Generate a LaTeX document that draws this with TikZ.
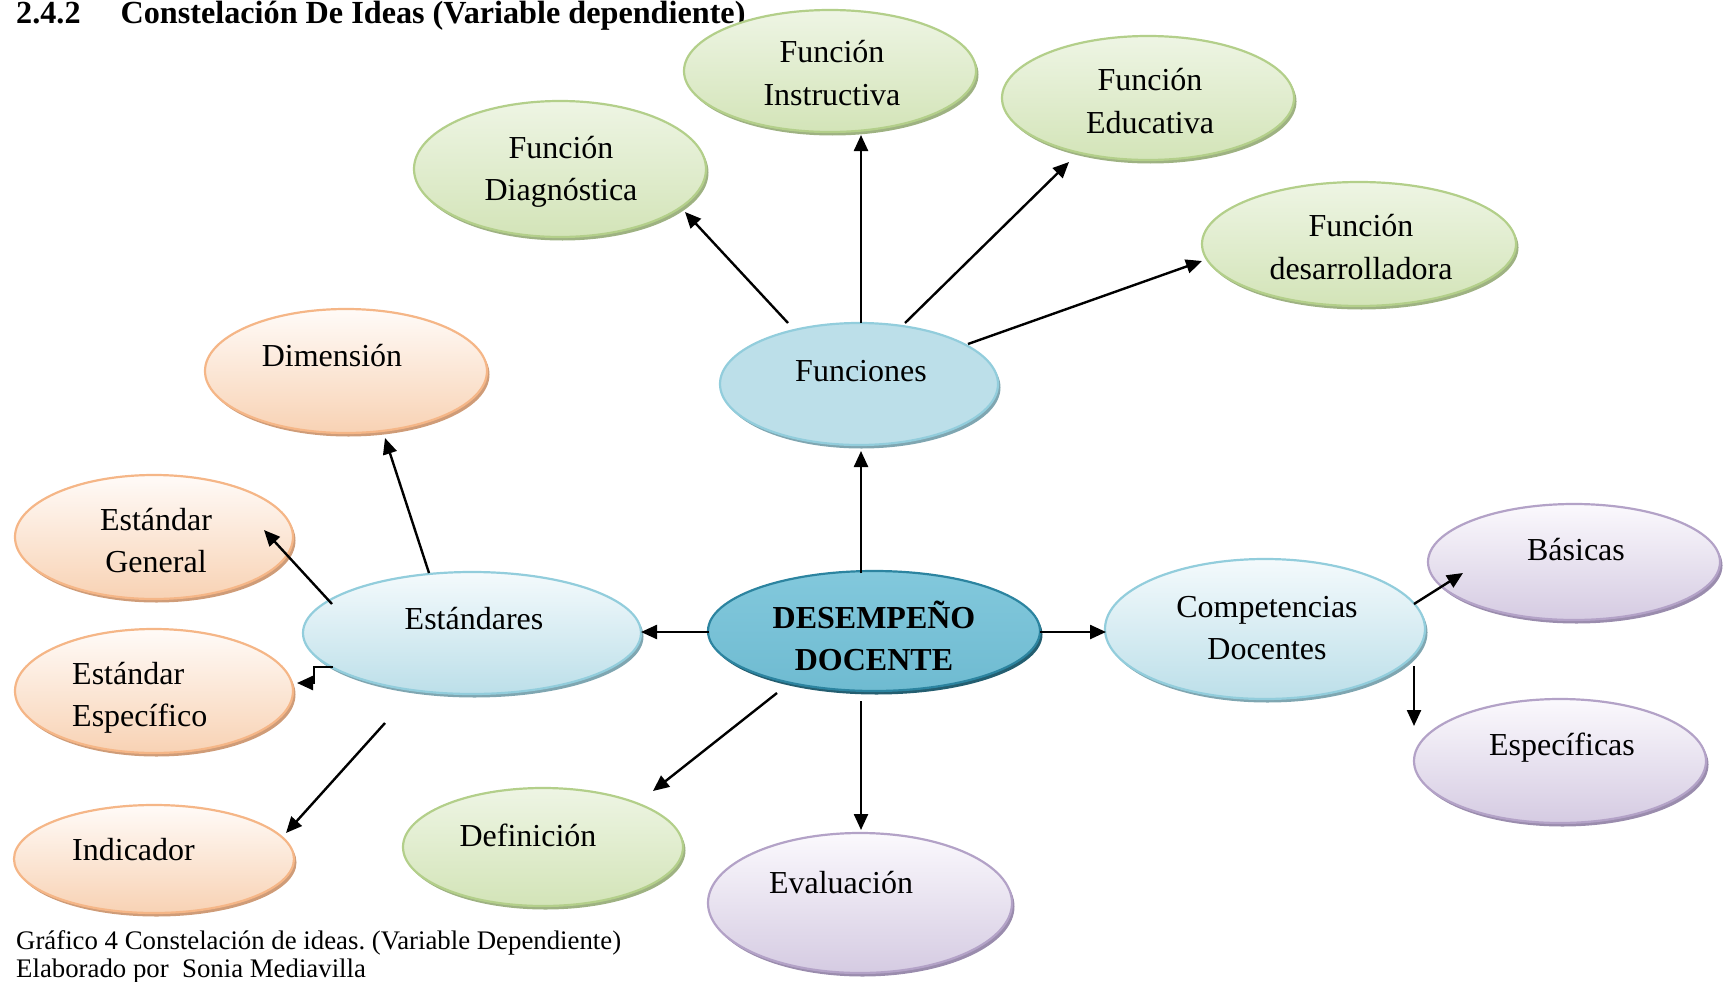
\documentclass[tikz,border=0pt]{standalone}
\usepackage{fontspec}
\setmainfont{Liberation Serif}
\usetikzlibrary{shapes.geometric,arrows.meta,shadows,calc}
\frenchspacing

% bubble palettes
\definecolor{grnTop}{HTML}{EEF5E4}
\definecolor{grnBot}{HTML}{D3E4B8}
\definecolor{grnLine}{HTML}{B3CF8A}
\definecolor{grnShd}{HTML}{9EB282}
\definecolor{orgTop}{HTML}{FFFBF8}
\definecolor{orgBot}{HTML}{F8D2B4}
\definecolor{orgLine}{HTML}{F5B687}
\definecolor{orgShd}{HTML}{CF9C78}
\definecolor{bluTop}{HTML}{F4FAFC}
\definecolor{bluMid}{HTML}{E0F0F5}
\definecolor{bluBot}{HTML}{BCDFE9}
\definecolor{bluLine}{HTML}{92CDDC}
\definecolor{bluShd}{HTML}{7FA6B1}
\definecolor{purTop}{HTML}{FBF9FD}
\definecolor{purBot}{HTML}{D5CBE2}
\definecolor{purLine}{HTML}{B3A2C7}
\definecolor{purShd}{HTML}{9A8CAD}
\definecolor{hubTop}{HTML}{82C8DC}
\definecolor{hubMid}{HTML}{45A5C1}
\definecolor{hubBot}{HTML}{6FBBD1}
\definecolor{hubLine}{HTML}{2C84A0}
\definecolor{hubShd}{HTML}{245E70}

\tikzset{
  bubble/.style={ellipse, inner sep=0pt, line width=2.2pt},
  gbub/.style={bubble, draw=grnLine, top color=grnTop, bottom color=grnBot,
    drop shadow={shadow xshift=2.5pt, shadow yshift=-3.5pt, fill=grnShd, opacity=1}},
  obub/.style={bubble, draw=orgLine, top color=orgTop, bottom color=orgBot,
    drop shadow={shadow xshift=2.5pt, shadow yshift=-3.5pt, fill=orgShd, opacity=1}},
  bbub/.style={bubble, draw=bluLine, top color=bluTop, bottom color=bluBot,
    drop shadow={shadow xshift=2.5pt, shadow yshift=-3.5pt, fill=bluShd, opacity=1}},
  fbub/.style={bubble, draw=bluLine, top color=bluBot, middle color=bluMid, bottom color=bluBot,
    drop shadow={shadow xshift=2.5pt, shadow yshift=-3.5pt, fill=bluShd, opacity=1}},
  pbub/.style={bubble, draw=purLine, top color=purTop, bottom color=purBot,
    drop shadow={shadow xshift=2.5pt, shadow yshift=-3.5pt, fill=purShd, opacity=1}},
  hbub/.style={bubble, draw=hubLine, top color=hubTop, middle color=hubMid, bottom color=hubBot,
    drop shadow={shadow xshift=2.5pt, shadow yshift=-3.5pt, fill=hubShd, opacity=1}},
  lbl/.style={inner sep=0pt, anchor=base, font=\fontsize{32}{38}\selectfont},
  lblw/.style={lbl, anchor=base west},
  conn/.style={line width=2.4pt, -{Triangle[length=16pt,width=14pt]}},
}

\begin{document}
\begin{tikzpicture}[x=1pt, y=-1pt]
\useasboundingbox (0,0) rectangle (1724,982);

% heading and caption
\node[inner sep=0pt, anchor=base west, font=\fontsize{32.2}{36}\selectfont\bfseries]
  (head) at (16,24) {2.4.2\hspace{40pt}Constelación De Ideas (Variable dependiente)};
\node[inner sep=0pt, anchor=base west, font=\fontsize{26.8}{30}\selectfont]
  (cap1) at (16,949) {Gráfico 4 Constelación de ideas. (Variable Dependiente)};
\node[inner sep=0pt, anchor=base west, font=\fontsize{26.8}{30}\selectfont]
  (cap2) at (16,977) {Elaborado por\ \ Sonia Mediavilla};

% bubbles
\node[gbub, minimum width=292pt, minimum height=122pt] (instr) at (830,71) {};
\node[gbub, minimum width=292pt, minimum height=124pt] (educ)  at (1148,98) {};
\node[gbub, minimum width=292pt, minimum height=136pt] (diag)  at (560,169) {};
\node[gbub, minimum width=314pt, minimum height=124pt] (desa)  at (1359,244) {};
\node[fbub, minimum width=278pt, minimum height=122pt] (fun)   at (859,384) {};
\node[obub, minimum width=282pt, minimum height=124pt] (dim)   at (346,371) {};
\node[obub, minimum width=278pt, minimum height=124pt] (gen)   at (154,537) {};
\node[obub, minimum width=278pt, minimum height=124pt] (spec)  at (154,691) {};
\node[obub, minimum width=280pt, minimum height=108pt] (ind)   at (154,859) {};
\node[bbub, minimum width=338pt, minimum height=122pt] (est)   at (472,633) {};
\node[hbub, minimum width=332pt, minimum height=120pt] (des)   at (874,631) {};
\node[bbub, minimum width=320pt, minimum height=140pt] (comp)  at (1265,629) {};
\node[pbub, minimum width=292pt, minimum height=116pt] (bas)   at (1574,562) {};
\node[pbub, minimum width=292pt, minimum height=124pt] (espf)  at (1560,761) {};
\node[gbub, minimum width=280pt, minimum height=118pt] (def)   at (543,847) {};
\node[pbub, minimum width=304pt, minimum height=140pt] (eval)  at (860,903) {};

% labels
\node[lbl] (instr-a) at (832,63)  {Función};
\node[lbl] (instr-b) at (832,106) {Instructiva};
\node[lbl] (educ-a)  at (1150,91)  {Función};
\node[lbl] (educ-b)  at (1150,133) {Educativa};
\node[lbl] (diag-a)  at (561,158) {Función};
\node[lbl] (diag-b)  at (561,200) {Diagnóstica};
\node[lbl] (desa-a)  at (1361,236) {Función};
\node[lbl] (desa-b)  at (1361,279) {desarrolladora};
\node[lbl] (fun-a)   at (861,381) {Funciones};
\node[lbl] (dim-a)   at (332,366) {Dimensión};
\node[lbl] (gen-a)   at (156,530) {Estándar};
\node[lbl] (gen-b)   at (156,572) {General};
\node[lblw] (spec-a) at (72,684) {Estándar};
\node[lblw] (spec-b) at (72,726) {Específico};
\node[lblw] (ind-a)  at (72,860) {Indicador};
\node[lbl] (est-a)   at (474,629) {Estándares};
\node[lbl, font=\fontsize{32}{38}\selectfont\bfseries] (des-a) at (874,628) {DESEMPEÑO};
\node[lbl, font=\fontsize{32}{38}\selectfont\bfseries] (des-b) at (874,670) {DOCENTE};
\node[lbl] (comp-a)  at (1267,617) {Competencias};
\node[lbl] (comp-b)  at (1267,659) {Docentes};
\node[lbl] (bas-a)   at (1576,560) {Básicas};
\node[lbl] (espf-a)  at (1562,755) {Específicas};
\node[lbl] (def-a)   at (528,846) {Definición};
\node[lbl] (eval-a)  at (841,893) {Evaluación};

% connectors
\draw[conn] ($(fun)+(-71,-61)$) -- ($(diag)+(125,43)$);
\draw[conn] ($(fun)+(2,-61)$)   -- ($(instr)+(31,64)$);
\draw[conn] ($(fun)+(46,-61)$)  -- ($(educ)+(-79,64)$);
\draw[conn] ($(fun)+(109,-40)$) -- ($(desa)+(-157,17)$);
\draw[conn] ($(des)+(-13,-58)$) -- ($(fun)+(2,67)$);
\draw[conn] ($(des)+(-165,1)$)  -- ($(est)+(169,-1)$);
\draw[conn] ($(des)+(166,1)$)   -- ($(comp)+(-159,3)$);
\draw[conn] ($(des)+(-97,62)$)  -- ($(def)+(110,-56)$);
\draw[conn] ($(des)+(-13,70)$)  -- ($(eval)+(1,-73)$);
\draw[conn] ($(est)+(-43,-60)$) -- ($(dim)+(39,67)$);
\draw[conn] ($(est)+(-140,-29)$) -- ($(gen)+(110,-7)$);
\draw[conn] ($(est)+(-139,34)$) -- ++(-19,0) |- ($(spec)+(143,-8)$);
\coordinate (indfrom) at (385,723);
\draw[conn] (indfrom) -- ($(ind)+(132,-26)$);
\draw[conn] ($(comp)+(149,-25)$) -- ($(bas)+(-111,11)$);
\draw[conn] ($(comp)+(149,37)$)  -- ($(espf)+(-146,-35)$);
\end{tikzpicture}
\end{document}
